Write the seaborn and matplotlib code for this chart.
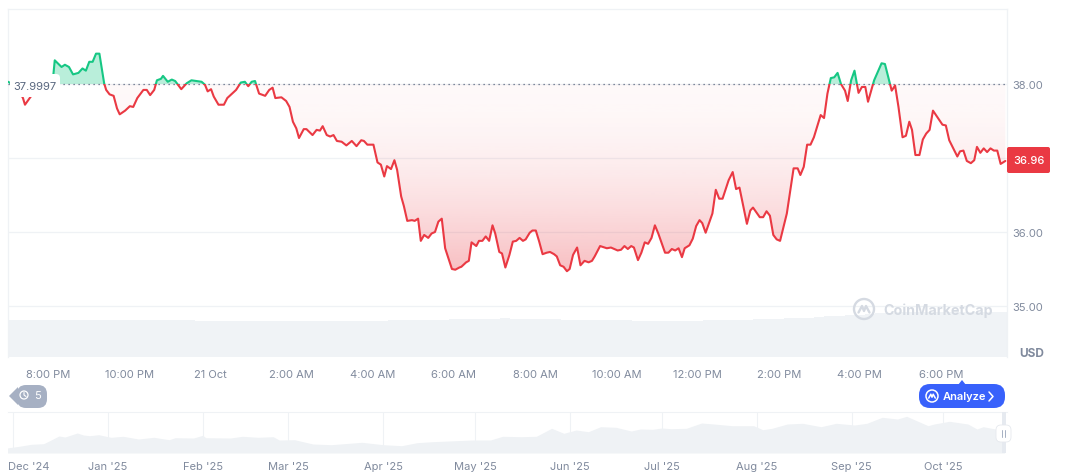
import numpy as np
import seaborn as sns
import matplotlib.pyplot as plt
from matplotlib.patches import Circle, FancyBboxPatch, Polygon, Rectangle
from matplotlib.transforms import ScaledTranslation

# minutes after 8:00 PM, and price in USD
minutes = [-59, -53, -46, -41, -37, -34, -27, -19, -12, -3, 8, 10, 20, 25, 31, 37, 45, 51, 56, 61, 66, 71, 76, 83, 86,
           91, 97, 102, 106, 114, 121, 126, 132, 141, 146, 151, 157, 161, 167, 170, 177, 183, 188, 197, 205, 212, 220,
           227, 232, 236, 241, 245, 252, 260, 265, 272, 278, 285, 291, 296, 301, 306, 312, 321, 327, 332, 336, 345,
           352, 357, 362, 367, 371, 378, 382, 391, 397, 402, 406, 412, 417, 422, 427, 434, 441, 449, 456, 463, 467,
           472, 481, 487, 492, 497, 501, 507, 512, 516, 522, 526, 531, 538, 542, 547, 551, 556, 562, 567, 572, 577,
           582, 587, 592, 597, 602, 608, 611, 618, 622, 626, 633, 637, 642, 647, 652, 657, 661, 667, 671, 676, 682,
           687, 692, 697, 702, 706, 712, 716, 721, 726, 731, 737, 742, 748, 752, 757, 762, 767, 771, 776, 782, 787,
           793, 799, 804, 808, 816, 826, 832, 842, 847, 852, 857, 862, 866, 872, 877, 882, 887, 892, 897, 902, 912,
           917, 922, 927, 932, 937, 941, 948, 953, 958, 963, 967, 972, 982, 987, 992, 997, 1006, 1012, 1017, 1022,
           1033, 1038, 1042, 1052, 1057, 1062, 1067, 1072, 1077, 1082, 1092, 1102, 1108, 1112, 1117, 1122, 1127, 1132,
           1142, 1147, 1152, 1157, 1162, 1167, 1172, 1178, 1182, 1187, 1192, 1198, 1203, 1208, 1212, 1221, 1232, 1237,
           1247, 1252, 1257, 1263, 1268, 1273, 1277, 1282, 1288, 1293, 1298, 1303, 1308, 1322, 1327, 1332, 1344, 1348,
           1353, 1358, 1364, 1369, 1373, 1378, 1383, 1388, 1393, 1398, 1403, 1408, 1415]
prices = [38.03, 38.00, 37.92, 37.88, 37.81, 37.72, 37.81, 37.91, 37.97, 38.05, 38.13, 38.32, 38.23, 38.26, 38.23,
          38.13, 38.15, 38.21, 38.18, 38.30, 38.30, 38.41, 38.41, 38.01, 37.92, 37.86, 37.84, 37.67, 37.59, 37.64,
          37.70, 37.69, 37.81, 37.92, 37.92, 37.85, 37.92, 38.05, 38.07, 38.11, 38.03, 38.06, 38.04, 37.93, 38.01,
          38.05, 38.04, 38.03, 37.99, 37.90, 37.93, 37.83, 37.72, 37.72, 37.81, 37.87, 37.92, 38.02, 38.03, 37.97,
          38.03, 38.04, 37.87, 37.84, 37.92, 37.95, 37.81, 37.82, 37.77, 37.69, 37.49, 37.40, 37.27, 37.39, 37.39,
          37.31, 37.38, 37.37, 37.43, 37.31, 37.29, 37.31, 37.23, 37.22, 37.17, 37.23, 37.16, 37.24, 37.23, 37.18,
          37.18, 36.94, 36.91, 36.75, 36.89, 36.85, 36.97, 36.84, 36.48, 36.35, 36.15, 36.16, 36.15, 36.18, 35.88,
          35.96, 35.92, 35.98, 36.00, 36.14, 36.18, 35.78, 35.64, 35.50, 35.49, 35.52, 35.53, 35.59, 35.61, 35.86,
          35.81, 35.88, 35.88, 35.94, 35.88, 36.09, 35.98, 35.73, 35.71, 35.52, 35.69, 35.87, 35.88, 35.92, 35.88,
          35.90, 35.99, 36.02, 36.02, 35.87, 35.70, 35.72, 35.73, 35.70, 35.67, 35.55, 35.53, 35.47, 35.50, 35.69,
          35.79, 35.55, 35.61, 35.59, 35.61, 35.67, 35.81, 35.78, 35.79, 35.75, 35.76, 35.81, 35.77, 35.81, 35.79,
          35.62, 35.72, 35.86, 35.84, 35.92, 36.09, 35.98, 35.72, 35.72, 35.77, 35.75, 35.78, 35.66, 35.78, 35.82,
          35.91, 36.08, 36.16, 36.12, 35.99, 36.25, 36.57, 36.45, 36.45, 36.70, 36.81, 36.58, 36.60, 36.11, 36.29,
          36.33, 36.20, 36.20, 36.28, 36.22, 35.96, 35.90, 35.88, 36.25, 36.86, 36.86, 36.77, 36.88, 37.18, 37.18,
          37.28, 37.58, 37.54, 37.87, 38.08, 38.09, 38.15, 38.00, 37.91, 37.77, 38.05, 38.18, 37.88, 37.96, 37.96,
          37.76, 38.05, 38.28, 38.27, 37.91, 37.98, 37.69, 37.28, 37.30, 37.49, 37.38, 37.04, 37.04, 37.25, 37.33,
          37.38, 37.64, 37.45, 37.44, 37.24, 37.02, 37.09, 37.10, 36.96, 36.93, 36.97, 37.15, 37.07, 37.13, 37.08,
          37.13, 37.10, 37.10, 36.92, 36.96]

# volume per 15 minutes, starting at 7:00 PM
volume = [37, 37.2, 37, 37.3, 37.2, 37, 37.3, 37.4, 37.2, 37.3, 37.5, 37.3, 37.4, 37.5, 37.4, 37.3, 37.2, 37.1, 36.6,
          36.5, 36.3, 36.4, 36.2, 36.3, 36.2, 36.1, 36.3, 36.2, 36.1, 36.2, 36.3, 36.2, 36.1, 36.2, 36.3, 36.2, 36.4,
          36.3, 36.6, 36.8, 37, 37.2, 37.3, 37.5, 37.7, 37.8, 38, 38.3, 38.5, 38.6, 38.4, 38.2, 38, 37.8, 37.7, 37.5,
          37.3, 37.2, 37, 36.8, 36.7, 36.6, 36.5, 36.4, 36.4, 36.3, 36.4, 36.4, 36.5, 36.6, 36.6, 36.7, 36.8, 37.2,
          37.6, 38, 38.4, 38.6, 39, 39.5, 40, 40.6, 41.2, 41.8, 42.4, 43, 43.6, 44.2, 44.8, 45, 45.2, 45.1, 45, 45.2,
          45.1, 45, 45.1, 45, 45]

# overview strip
overview_days = [-2, 2, 6, 10, 12, 15, 17, 21, 23, 25, 28, 32, 36, 41, 46, 51, 53, 59, 62, 63, 71, 75, 80, 85, 87, 92,
                 98, 104, 114, 121, 127, 132, 137, 150, 156, 160, 166, 171, 176, 180, 184, 188, 192, 197, 202, 205,
                 209, 212, 215, 220, 225, 229, 235, 242, 245, 248, 253, 258, 264, 269, 275, 279, 284, 289, 292, 299,
                 301, 306, 312, 315, 317, 324]
overview_vals = [5, 6.7, 8.7, 9.3, 12.3, 17, 16, 20, 18, 17.3, 18.3, 15.7, 16.7, 14, 15.7, 13.3, 15.3, 15, 17.7, 15.3,
                 15, 16.7, 15.7, 16.3, 13, 13.3, 9, 8.3, 10.7, 8.3, 7.3, 10.3, 11.3, 13, 13, 16.7, 16.3, 16.7, 24.7,
                 19.7, 23, 21.3, 26.3, 25.7, 22, 24, 23.7, 25, 24.3, 24.7, 30, 29, 27.3, 27.3, 23.3, 24.7, 29, 29.7,
                 26.3, 29.7, 28, 29.7, 35.7, 34, 36.7, 27.3, 29, 31.7, 29, 24, 26.3, 22.3]

time_ticks = [0, 120, 240, 360, 480, 600, 720, 840, 960, 1080, 1200, 1320]
time_labels = ['8:00 PM', '10:00 PM', '21 Oct', '2:00 AM', '4:00 AM', '6:00 AM', '8:00 AM', '10:00 AM', '12:00 PM',
               '2:00 PM', '4:00 PM', '6:00 PM']
price_ticks = [35, 36, 37, 38]
price_labels = ['35.00', '36.00', '', '38.00']
month_ticks = [0, 31, 62, 90, 121, 151, 182, 212, 243, 274, 304]
month_labels = ["Dec '24", "Jan '25", "Feb '25", "Mar '25", "Apr '25", "May '25", "Jun '25", "Jul '25", "Aug '25",
                "Sep '25", "Oct '25"]

baseline = 38.0
RED = '#ea3943'
GREEN = '#16c784'
GREY = '#808a9d'
HAIR = '#eff2f5'
W, H = 1072, 477

sns.set_theme(style='white')
plt.rcParams['font.family'] = ['Inter', 'DejaVu Sans']

minutes = np.array(minutes)
prices = np.array(prices)


def gradient(ax, color, y0, y1, a0, a1, clip, power=1.0):
    rgba = np.zeros((256, 1, 4))
    rgba[..., :3] = plt.matplotlib.colors.to_rgb(color)
    rgba[:, 0, 3] = a0 + (a1 - a0) * np.linspace(0, 1, 256) ** power
    # row 0 of the image is y1 with origin upper, so a0 sits at y1
    im = ax.imshow(rgba, extent=(minutes[0], minutes[-1], y0, y1), origin='upper', aspect='auto', zorder=2)
    im.set_clip_path(clip, transform=ax.transData)


def logo(ax, cx, cy, r, color, lw):
    ax.add_patch(Circle((cx, cy), r, fill=False, ec=color, lw=lw))
    ax.plot([cx - r * .55, cx - r * .2, cx, cx + r * .2, cx + r * .55],
            [cy + r * .35, cy - r * .3, cy + r * .2, cy - r * .3, cy + r * .35], color=color, lw=lw)


fig = plt.figure(figsize=(W / 100, H / 100), dpi=100, facecolor='white')

# volume sits behind the price panel
ax_vol = fig.add_axes([8 / W, 1 - 358 / H, 999 / W, 52 / H])
ax_vol.bar(np.arange(-60, -60 + 15 * len(volume), 15), volume, width=15.1, color='#f0f3f6', lw=0)
ax_vol.set_xlim(-59.1, 1417.4)
ax_vol.set_ylim(0, 52)
ax_vol.axis('off')

ax = fig.add_axes([8 / W, 1 - 358 / H, 999 / W, 348 / H], zorder=2)
ax.patch.set_alpha(0)
x_lim = (-59.1, 1417.4)
y_lim = (34.3105, 39.0135)

area = ax.fill_between(minutes, prices, baseline, color='none')
clip = area.get_paths()[0]
gradient(ax, RED, 35.45, baseline, 0.03, 0.33, clip, power=1.8)
gradient(ax, GREEN, baseline, 38.42, 0.3, 0.3, clip)

ax.axhline(baseline, color='#58667e', lw=0.9, ls=(0, (1, 3)), zorder=3)

below = sns.lineplot(x=minutes, y=prices, ax=ax, color=RED, lw=1.5, estimator=None, zorder=4).lines[-1]
above = sns.lineplot(x=minutes, y=prices, ax=ax, color=GREEN, lw=1.5, estimator=None, zorder=4).lines[-1]
below.set_clip_path(Rectangle((x_lim[0], y_lim[0]), 2000, baseline - y_lim[0], transform=ax.transData))
above.set_clip_path(Rectangle((x_lim[0], baseline), 2000, 2, transform=ax.transData))

ax.set_xlim(x_lim)
ax.set_ylim(y_lim)
ax.set_xticks(time_ticks, time_labels)
ax.set_yticks(price_ticks, price_labels)
ax.yaxis.tick_right()
ax.tick_params(axis='x', length=0, pad=9, labelsize=8, labelcolor=GREY)
ax.tick_params(axis='y', length=0, pad=4, labelsize=8, labelcolor=GREY)
ax.grid(axis='y', color=HAIR, lw=0.9)
ax.set_axisbelow(True)
ax.set_xlabel('')
ax.set_ylabel('')
for side in ['left', 'right', 'top']:
    ax.spines[side].set_color(HAIR)
    ax.spines[side].set_linewidth(0.9)
ax.spines['bottom'].set_visible(False)

# overview strip
ax_nav = fig.add_axes([8 / W, 1 - 454 / H, 999 / W, 41 / H])
ax_nav.fill_between(overview_days, overview_vals, 0, color=HAIR, lw=0, zorder=2)
ax_nav.set_xlim(-1.63, 324.8)
ax_nav.set_ylim(0, 41)
ax_nav.set_xticks(month_ticks, month_labels)
ax_nav.set_yticks([])
ax_nav.tick_params(axis='x', length=0, pad=6, labelsize=8, labelcolor=GREY)
ax_nav.grid(axis='x', color=HAIR, lw=0.8)
for side in ['left', 'right', 'bottom']:
    ax_nav.spines[side].set_visible(False)
ax_nav.spines['top'].set_color(HAIR)
ax_nav.spines['top'].set_linewidth(0.8)
first = ax_nav.get_xticklabels()[0]
first.set_ha('left')
first.set_transform(first.get_transform() + ScaledTranslation(-5 / 100, 0, fig.dpi_scale_trans))

# everything that sits on top of the chart, in screen pixels
top = fig.add_axes([0, 0, 1, 1], zorder=5)
top.set_xlim(0, W)
top.set_ylim(H, 0)
top.axis('off')

top.add_patch(FancyBboxPatch((12, 77), 46, 19, boxstyle='round,pad=2,rounding_size=4', fc='white', ec='none'))
top.text(13, 86.5, '37.9997', color='#58667e', fontsize=8, va='center', ha='left')

top.add_patch(FancyBboxPatch((1009, 150), 39, 22, boxstyle='round,pad=2,rounding_size=2', fc=RED, ec='none'))
top.text(1029, 161, '36.96', color='white', fontsize=8, va='center', ha='center', fontweight='medium')

top.text(1032, 354, 'USD', color=GREY, fontsize=8.5, va='center', ha='center', fontweight='bold')

logo(top, 864, 310, 10, '#d5dae2', 1.7)
top.text(883, 311, 'CoinMarketCap', color='#d5dae2', fontsize=10.3, va='center', ha='left', fontweight='bold')

top.add_patch(Polygon([(9, 397), (18, 388), (18, 406)], fc='#a6b0c3', ec='none'))
top.add_patch(FancyBboxPatch((20, 389), 24, 17, boxstyle='round,pad=3,rounding_size=9', fc='#a6b0c3', ec='none'))
top.add_patch(Circle((24, 396), 4, fill=False, ec='white', lw=0.9))
top.plot([24, 24, 26], [393.5, 396, 397.5], color='white', lw=0.8)
top.text(37, 396.5, '5', color='white', fontsize=8, va='center', ha='center')

top.add_patch(FancyBboxPatch((921, 387), 82, 20, boxstyle='round,pad=2,rounding_size=11', fc='#3861fb', ec='none'))
top.add_patch(Polygon([(958, 386), (962, 381), (966, 386)], fc='#3861fb', ec='none'))
logo(top, 932, 397, 6, 'white', 1.1)
top.text(943, 397, 'Analyze', color='white', fontsize=8, va='center', ha='left', fontweight='semibold')
top.plot([989, 993, 989], [393, 397.5, 402], color='white', lw=1.1)

top.add_patch(Rectangle((1002, 413), 4, 41, fc='#e6eaf0', ec='none'))
top.add_patch(FancyBboxPatch((998, 428), 11, 13, boxstyle='round,pad=2,rounding_size=5', fc='white', ec='#e6e9ee', lw=0.6))
top.plot([1002, 1002], [431, 438], color='#a6b0c3', lw=0.7)
top.plot([1005, 1005], [431, 438], color='#a6b0c3', lw=0.7)

fig.savefig('out.png', dpi=100)
